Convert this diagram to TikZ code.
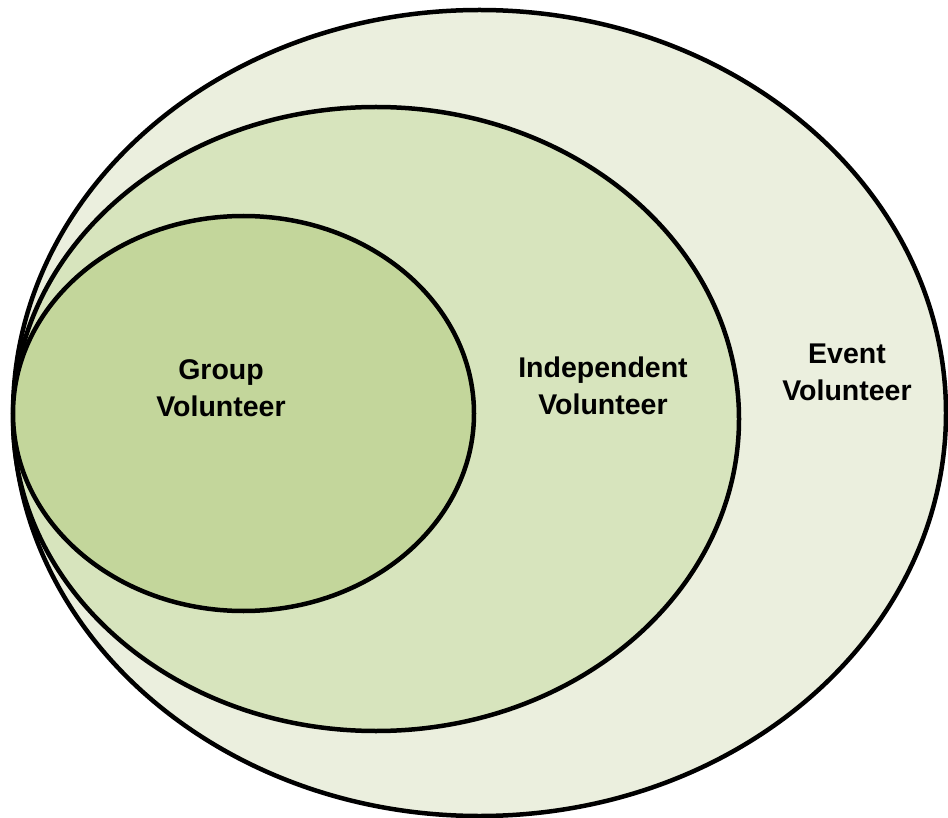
\documentclass[tikz,border=0pt]{standalone}
\usepackage{fontspec}
\setmainfont{Liberation Sans}
\begin{document}
\begin{tikzpicture}[x=1pt,y=-1pt,
  ring/.style={draw=black,line width=4.5pt},
  lbl/.style={font=\bfseries\fontsize{28.5}{37}\selectfont,align=center,inner sep=0pt}]
\useasboundingbox (0,0) rectangle (948,818);
% nested sets, all touching at the left edge
\path[ring,fill={rgb,255:red,235;green,239;blue,222}] (479.5,413) ellipse [x radius=466.5,y radius=403];
\path[ring,fill={rgb,255:red,215;green,228;blue,189}] (376,419) ellipse [x radius=363,y radius=312];
\path[ring,fill={rgb,255:red,195;green,214;blue,155}] (243.5,413.5) ellipse [x radius=230.5,y radius=197.5];
% set names
\node[lbl] (grp) at (221,388) {Group\\Volunteer};
\node[lbl] (ind) at (603,386) {Independent\\Volunteer};
\node[lbl] (evt) at (847,372) {Event\\Volunteer};
\end{tikzpicture}
\end{document}
